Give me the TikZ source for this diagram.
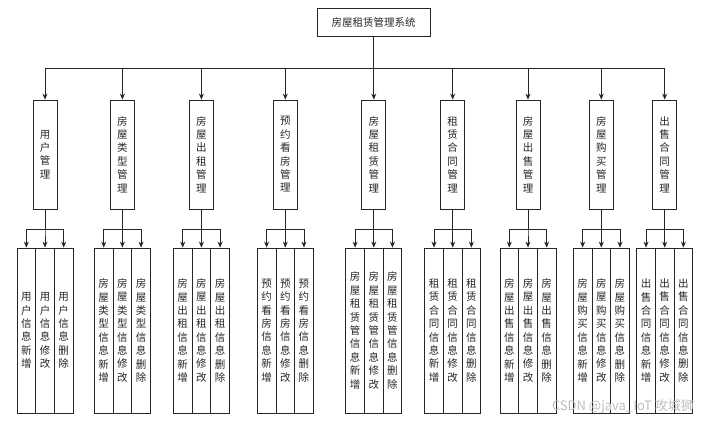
\documentclass[tikz,border=0pt]{standalone}
\usepackage{fontspec}
\newfontfamily\cjk{Noto Sans CJK SC}
\usetikzlibrary{arrows.meta}
\ExplSyntaxOn
\NewDocumentCommand\vt{m}{
  \tl_set:Nx \l_tmpa_tl {#1}
  \seq_set_split:NnV \l_tmpa_seq {} \l_tmpa_tl
  \seq_use:Nn \l_tmpa_seq {\\}
}
\ExplSyntaxOff
\begin{document}
\begin{tikzpicture}[x=1pt,y=-1pt,
  box/.style={draw=black!85,line width=0.8pt,inner sep=0pt,align=center,
    font=\cjk\fontsize{10.5}{13.4}\selectfont,text=black!85},
  mod/.style={box,minimum width=24pt,minimum height=109pt},
  leaf/.style={box,minimum width=18.67pt,minimum height=165pt},
  arr/.style={draw=black!85,line width=0.8pt,-{Stealth[length=6pt,width=5pt]}}]
\useasboundingbox[fill=white] (0,0) rectangle (704,422);
\node[box,minimum width=112.7pt,minimum height=28.4pt] (top) at (373.7,22.5) {房屋租赁管理系统};
\foreach \i/\x/\mn/\lp in {1/45/用户管理/用户, 2/122.4/房屋类型管理/房屋类型,
  3/201.4/房屋出租管理/房屋出租, 4/285.3/预约看房管理/预约看房,
  5/373.8/房屋租赁管理/房屋租赁管, 6/452.7/租赁合同管理/租赁合同,
  7/528/房屋出售管理/房屋出售, 8/601.3/房屋购买管理/房屋购买,
  9/664.7/出售合同管理/出售合同}{
  \node[mod] (m\i) at (\x,154.5) {\vt{\mn}};
  \node[leaf] (m\i-1) at (\x-18.67,330.5) {\vt{\lp 信息新增}};
  \node[leaf] (m\i-2) at (\x,330.5) {\vt{\lp 信息修改}};
  \node[leaf] (m\i-3) at (\x+18.67,330.5) {\vt{\lp 信息删除}};
  \draw[arr] (top.south) -- (top.south |- 0,68) -| (m\i.north);
  \foreach \j in {1,2,3}
    \draw[arr] (m\i.south) -- (m\i.south |- 0,229) -| (m\i-\j.north);
}
\node[text=gray!50,font=\cjk\fontsize{13}{15}\selectfont,anchor=east,inner sep=0pt] (wm) at (694,407) {CSDN @java\_IoT 攻城狮};
\end{tikzpicture}
\end{document}
